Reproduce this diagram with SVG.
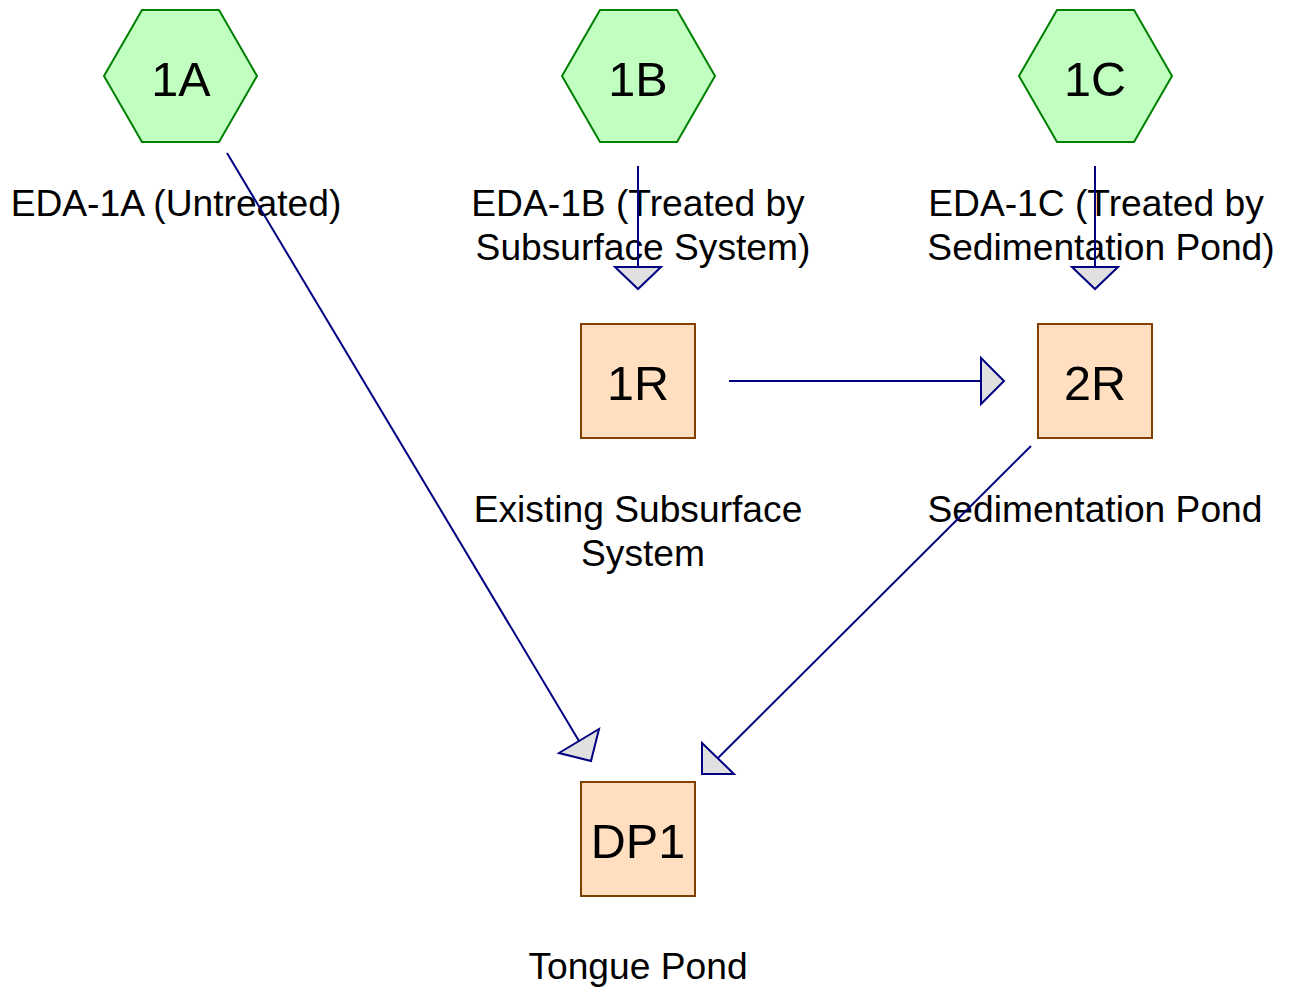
<svg xmlns="http://www.w3.org/2000/svg" width="1289" height="990" viewBox="0 0 1289 990">
<style>
.hex{fill:#C0FFC0;stroke:#008000;stroke-width:2}
.box{fill:#FFDFC0;stroke:#804000;stroke-width:2}
.id{font-family:"Liberation Sans",Arial,sans-serif;font-size:48.5px;fill:#000;text-anchor:middle}
.lbl{font-family:"Liberation Sans",Arial,sans-serif;font-size:37.2px;fill:#000;text-anchor:middle}
.ln{stroke:#000080;stroke-width:2;fill:none}
.ah{fill:#E0E0E0;stroke:#000080;stroke-width:2;stroke-linejoin:miter}
</style>
<rect width="1289" height="990" fill="#fff"/>
<g id="node-1A">
<polygon class="hex" points="104,76 142,10 219,10 257,76 219,142 142,142"/>
<text class="id" x="181" y="96">1A</text>
<text class="lbl" x="176" y="216">EDA-1A (Untreated)</text>
</g>
<g id="node-1B">
<polygon class="hex" points="562,76 600,10 677,10 715,76 677,142 600,142"/>
<text class="id" x="638" y="96">1B</text>
<text class="lbl" x="638" y="216">EDA-1B (Treated by</text>
<text class="lbl" x="643" y="260">Subsurface System)</text>
</g>
<g id="node-1C">
<polygon class="hex" points="1019,76 1057,10 1134,10 1172,76 1134,142 1057,142"/>
<text class="id" x="1095" y="96">1C</text>
<text class="lbl" x="1096" y="216">EDA-1C (Treated by</text>
<text class="lbl" x="1101" y="260">Sedimentation Pond)</text>
</g>
<g id="node-1R">
<rect class="box" x="581" y="324" width="114" height="114"/>
<text class="id" x="638" y="400">1R</text>
<text class="lbl" x="638" y="522">Existing Subsurface</text>
<text class="lbl" x="643" y="566">System</text>
</g>
<g id="node-2R">
<rect class="box" x="1038" y="324" width="114" height="114"/>
<text class="id" x="1095" y="400">2R</text>
<text class="lbl" x="1095" y="522">Sedimentation Pond</text>
</g>
<g id="node-DP1">
<rect class="box" x="581" y="782" width="114" height="114"/>
<text class="id" x="638" y="858">DP1</text>
<text class="lbl" x="638" y="979">Tongue Pond</text>
</g>
<g id="connectors">
<line class="ln" x1="227" y1="153" x2="579" y2="741"/>
<polygon class="ah" points="559,753 599,729 591,761"/>
<line class="ln" x1="638" y1="166" x2="638" y2="267"/>
<polygon class="ah" points="615,267 661,267 638,289"/>
<line class="ln" x1="1095" y1="166" x2="1095" y2="267"/>
<polygon class="ah" points="1072,267 1118,267 1095,289"/>
<line class="ln" x1="729" y1="381" x2="981" y2="381"/>
<polygon class="ah" points="981,358 981,404 1004,381"/>
<line class="ln" x1="1031" y1="446" x2="718" y2="758"/>
<polygon class="ah" points="702,743 734,774 702,774"/>
</g>
</svg>
